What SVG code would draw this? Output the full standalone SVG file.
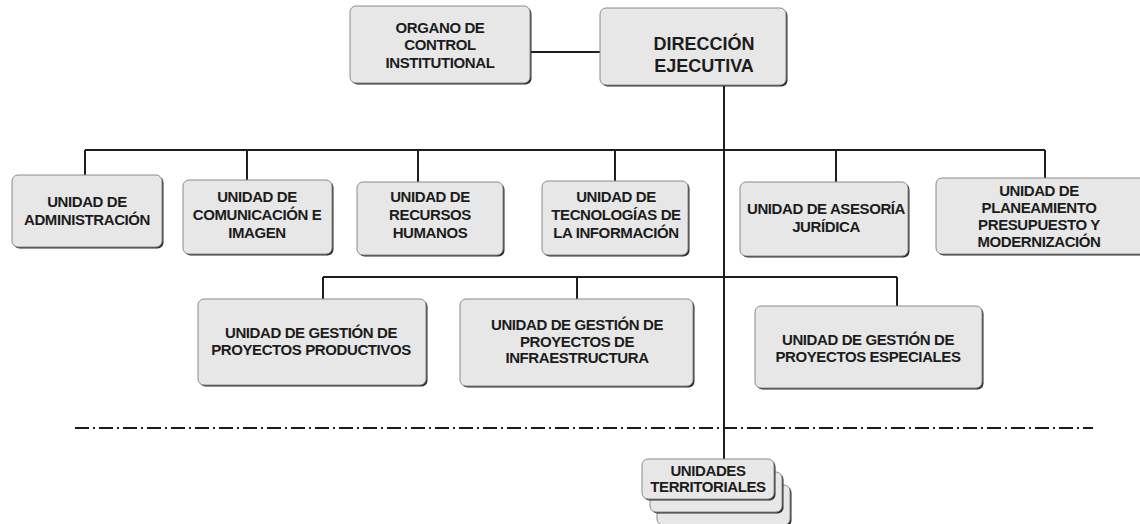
<svg xmlns="http://www.w3.org/2000/svg" width="1140" height="524" viewBox="0 0 1140 524">
<style>
.sh{fill:#2a2a2a}
.bx{fill:#e7e7e7;stroke:#8a8a8a;stroke-width:1}
.t{font-family:"Liberation Sans",Arial,sans-serif;font-weight:bold;font-size:15px;letter-spacing:-0.4px;fill:#1c1c1c;text-anchor:middle}
.big{font-size:18px;letter-spacing:0}
.ln{fill:none;stroke:#1e1e1e;stroke-width:2}
.dd{fill:none;stroke:#1e1e1e;stroke-width:2;stroke-dasharray:14 4 2 4}
</style>
<rect width="1140" height="524" fill="#ffffff"/>
<g id="connectors">
<path class="ln" d="M530 52H600"/>
<path class="ln" d="M724 85V459"/>
<path class="ln" d="M85 150H1045M85 150V175M247 150V180M418 150V182M615 150V181M836 150V182M1045 150V178"/>
<path class="ln" d="M323 277H897M323 277V299M577 277V299M897 277V306"/>
</g>
<path class="dd" d="M75 428H1093"/>
<g id="organo">
<rect class="sh" x="351.5" y="7.5" width="180" height="77" rx="6"/>
<rect class="bx" x="350" y="6" width="180" height="77" rx="6"/>
<text class="t" x="440" y="33">ORGANO DE</text>
<text class="t" x="440" y="50">CONTROL</text>
<text class="t" x="440" y="68">INSTITUTIONAL</text>
</g>
<g id="direccion">
<rect class="sh" x="601.5" y="9.5" width="186" height="77" rx="6"/>
<rect class="bx" x="600" y="8" width="186" height="77" rx="6"/>
<text class="t big" x="704" y="50">DIRECCIÓN</text>
<text class="t big" x="704" y="72">EJECUTIVA</text>
</g>
<g id="administracion">
<rect class="sh" x="13.5" y="176.5" width="150" height="72" rx="6"/>
<rect class="bx" x="12" y="175" width="150" height="72" rx="6"/>
<text class="t" x="87" y="207">UNIDAD DE</text>
<text class="t" x="87" y="225">ADMINISTRACIÓN</text>
</g>
<g id="comunicacion">
<rect class="sh" x="184.5" y="181.5" width="149" height="74" rx="6"/>
<rect class="bx" x="183" y="180" width="149" height="74" rx="6"/>
<text class="t" x="257" y="202">UNIDAD DE</text>
<text class="t" x="257" y="220">COMUNICACIÓN E</text>
<text class="t" x="257" y="238">IMAGEN</text>
</g>
<g id="recursos">
<rect class="sh" x="358.5" y="183.5" width="146" height="73" rx="6"/>
<rect class="bx" x="357" y="182" width="146" height="73" rx="6"/>
<text class="t" x="430" y="202">UNIDAD DE</text>
<text class="t" x="430" y="220">RECURSOS</text>
<text class="t" x="430" y="238">HUMANOS</text>
</g>
<g id="tecnologias">
<rect class="sh" x="543.5" y="182.5" width="146" height="74" rx="6"/>
<rect class="bx" x="542" y="181" width="146" height="74" rx="6"/>
<text class="t" x="616" y="202">UNIDAD DE</text>
<text class="t" x="616" y="220">TECNOLOGÍAS DE</text>
<text class="t" x="616" y="238">LA INFORMACIÓN</text>
</g>
<g id="asesoria">
<rect class="sh" x="741.5" y="183.5" width="168" height="74" rx="6"/>
<rect class="bx" x="740" y="182" width="168" height="74" rx="6"/>
<text class="t" x="826" y="214">UNIDAD DE ASESORÍA</text>
<text class="t" x="826" y="232">JURÍDICA</text>
</g>
<g id="planeamiento">
<rect class="sh" x="937.5" y="179.5" width="220" height="76" rx="6"/>
<rect class="bx" x="936" y="178" width="220" height="76" rx="6"/>
<text class="t" x="1039" y="196">UNIDAD DE</text>
<text class="t" x="1039" y="213">PLANEAMIENTO</text>
<text class="t" x="1039" y="230">PRESUPUESTO Y</text>
<text class="t" x="1039" y="247">MODERNIZACIÓN</text>
</g>
<g id="productivos">
<rect class="sh" x="199.5" y="300.5" width="228" height="86" rx="6"/>
<rect class="bx" x="198" y="299" width="228" height="86" rx="6"/>
<text class="t" x="311" y="338">UNIDAD DE GESTIÓN DE</text>
<text class="t" x="311" y="355">PROYECTOS PRODUCTIVOS</text>
</g>
<g id="infraestructura">
<rect class="sh" x="461.5" y="300.5" width="233" height="87" rx="6"/>
<rect class="bx" x="460" y="299" width="233" height="87" rx="6"/>
<text class="t" x="577" y="330">UNIDAD DE GESTIÓN DE</text>
<text class="t" x="577" y="347">PROYECTOS DE</text>
<text class="t" x="577" y="363">INFRAESTRUCTURA</text>
</g>
<g id="especiales">
<rect class="sh" x="756.5" y="307.5" width="227" height="82" rx="6"/>
<rect class="bx" x="755" y="306" width="227" height="82" rx="6"/>
<text class="t" x="868" y="345">UNIDAD DE GESTIÓN DE</text>
<text class="t" x="868" y="362">PROYECTOS ESPECIALES</text>
</g>
<g id="territoriales">
<rect class="sh" x="658.5" y="486.5" width="133" height="40" rx="6"/>
<rect class="bx" x="657" y="485" width="133" height="40" rx="6"/>
<rect class="sh" x="651.5" y="473.5" width="132" height="40" rx="6"/>
<rect class="bx" x="650" y="472" width="132" height="40" rx="6"/>
<rect class="sh" x="643.5" y="460.5" width="132" height="40" rx="6"/>
<rect class="bx" x="642" y="459" width="132" height="40" rx="6"/>
<text class="t" x="708" y="476">UNIDADES</text>
<text class="t" x="708" y="492">TERRITORIALES</text>
</g>
</svg>
